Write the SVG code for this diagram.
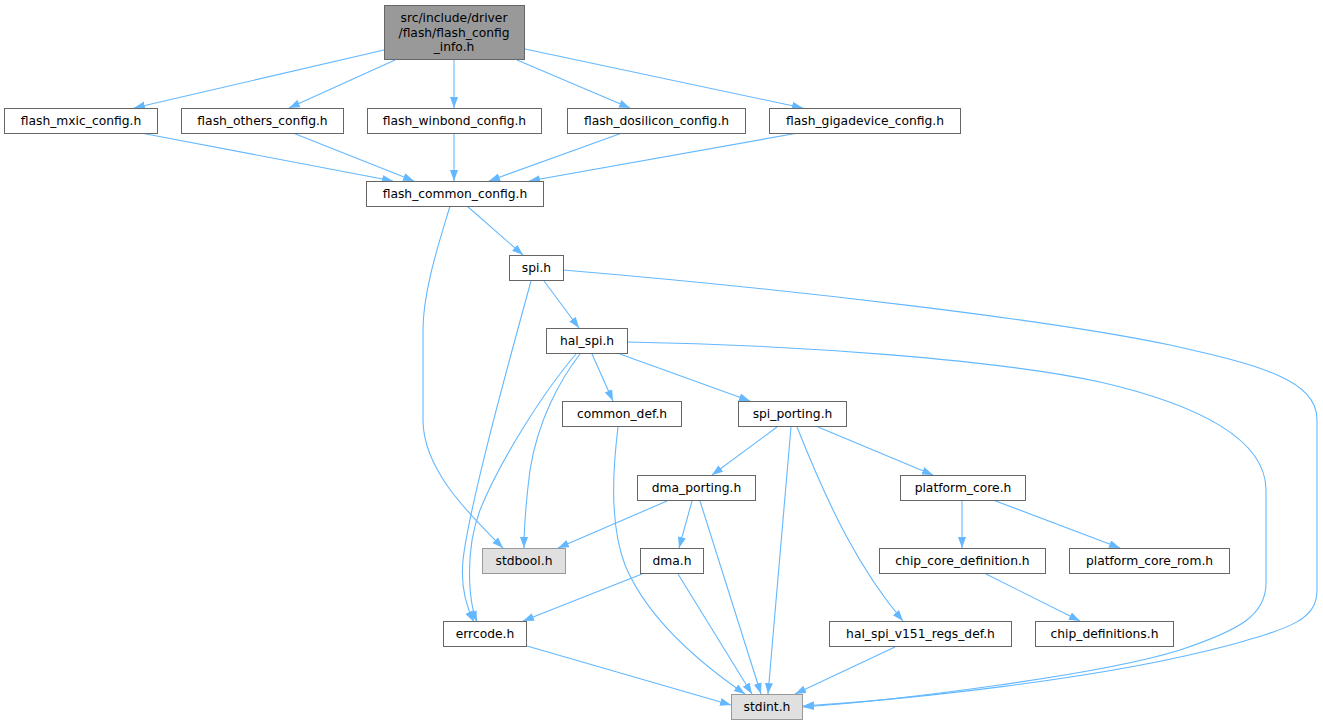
<svg xmlns="http://www.w3.org/2000/svg" width="1323" height="725" viewBox="0 0 1323 725">
<defs>
<marker id="ah" markerUnits="userSpaceOnUse" markerWidth="12" markerHeight="9" refX="11" refY="4" orient="auto"><path d="M0,0 L11,4 L0,8 z" fill="#63b8ff"/></marker>
</defs>
<style>
.n rect{fill:#fff;stroke:#666;stroke-width:1}
.g rect{fill:#e0e0e0;stroke:#999;stroke-width:1}
.t rect{fill:#999;stroke:#666;stroke-width:1}
text{font-family:"DejaVu Sans",sans-serif;font-size:12.3px;fill:#000;text-anchor:middle}
#edges path{fill:none;stroke:#63b8ff;stroke-width:1.1;marker-end:url(#ah)}
</style>
<rect width="1323" height="725" fill="#fff"/>
<g id="edges">
<path d="M384,50 L134,108"/>
<path d="M395,60 L289,108"/>
<path d="M454,60 L454,108"/>
<path d="M517,60 L630,108"/>
<path d="M525,49 L803,108"/>
<path d="M141,133 L393,181"/>
<path d="M293,133 L414,181"/>
<path d="M454,133 L454,181"/>
<path d="M622,133 L489,181"/>
<path d="M798,133 L529,181"/>
<path d="M467,206 L523,255"/>
<path d="M450,206 C440,240 423,290 423,330 L423,420 C423,470 470,515 503,548"/>
<path d="M531,281 C515,340 470,500 463,560 C460,590 468,610 474,622"/>
<path d="M544,281 L579,328"/>
<path d="M563,270 C800,290 1050,320 1170,345 C1260,365 1317,380 1317,420 L1317,590 C1317,620 1290,628 1230,645 C1100,680 900,700 803,706"/>
<path d="M627,342 C800,345 1000,360 1100,382 C1200,405 1266,440 1266,490 L1266,583 C1266,615 1240,630 1180,650 C1100,675 900,700 803,707"/>
<path d="M580,354 C560,380 538,420 530,470 C525,510 524,530 524,548"/>
<path d="M576,354 C545,390 500,460 480,510 C465,550 468,600 477,622"/>
<path d="M592,354 L613,401"/>
<path d="M620,354 L750,401"/>
<path d="M618,427 C614,460 608,520 625,565 C650,625 710,670 745,694"/>
<path d="M777,427 L712,475"/>
<path d="M791,427 L768,694"/>
<path d="M797,427 C830,510 860,570 903,621"/>
<path d="M818,427 L933,475"/>
<path d="M667,501 L558,548"/>
<path d="M692,501 L679,548"/>
<path d="M700,501 L761,694"/>
<path d="M642,574 L523,621"/>
<path d="M678,574 L752,694"/>
<path d="M527,646 L731,705"/>
<path d="M895,647 L795,694"/>
<path d="M962,500 L962,548"/>
<path d="M993,500 L1120,548"/>
<path d="M986,574 L1080,621"/>
</g>
<g id="flash_config_info" class="t"><rect x="384.5" y="5.5" width="140" height="54"/><text x="454" y="22">src/include/driver</text><text x="454" y="36.5">/flash/flash_config</text><text x="454" y="51">_info.h</text></g>
<g id="flash_mxic_config" class="n"><rect x="4.5" y="108.5" width="153" height="25"/><text x="81" y="125">flash_mxic_config.h</text></g>
<g id="flash_others_config" class="n"><rect x="181.5" y="108.5" width="162" height="25"/><text x="262.5" y="125">flash_others_config.h</text></g>
<g id="flash_winbond_config" class="n"><rect x="367.5" y="108.5" width="174" height="25"/><text x="454.5" y="125">flash_winbond_config.h</text></g>
<g id="flash_dosilicon_config" class="n"><rect x="567.5" y="108.5" width="178" height="25"/><text x="656.5" y="125">flash_dosilicon_config.h</text></g>
<g id="flash_gigadevice_config" class="n"><rect x="769.5" y="108.5" width="191" height="25"/><text x="865" y="125">flash_gigadevice_config.h</text></g>
<g id="flash_common_config" class="n"><rect x="366.5" y="181.5" width="177" height="25"/><text x="455" y="198">flash_common_config.h</text></g>
<g id="spi" class="n"><rect x="509.5" y="255.5" width="54" height="25"/><text x="536.5" y="272">spi.h</text></g>
<g id="hal_spi" class="n"><rect x="546.5" y="328.5" width="81" height="25"/><text x="587" y="345">hal_spi.h</text></g>
<g id="common_def" class="n"><rect x="562.5" y="401.5" width="119" height="25"/><text x="622" y="418">common_def.h</text></g>
<g id="spi_porting" class="n"><rect x="738.5" y="401.5" width="108" height="25"/><text x="792.5" y="418">spi_porting.h</text></g>
<g id="dma_porting" class="n"><rect x="637.5" y="475.5" width="118" height="25"/><text x="696.5" y="492">dma_porting.h</text></g>
<g id="platform_core" class="n"><rect x="900.5" y="475.5" width="125" height="25"/><text x="963" y="492">platform_core.h</text></g>
<g id="stdbool" class="g"><rect x="482.5" y="548.5" width="83" height="25"/><text x="524" y="565">stdbool.h</text></g>
<g id="dma" class="n"><rect x="640.5" y="548.5" width="63" height="25"/><text x="672" y="565">dma.h</text></g>
<g id="chip_core_definition" class="n"><rect x="879.5" y="548.5" width="166" height="25"/><text x="962.5" y="565">chip_core_definition.h</text></g>
<g id="platform_core_rom" class="n"><rect x="1069.5" y="548.5" width="160" height="25"/><text x="1149.5" y="565">platform_core_rom.h</text></g>
<g id="errcode" class="n"><rect x="443.5" y="621.5" width="83" height="25"/><text x="485" y="638">errcode.h</text></g>
<g id="hal_spi_v151_regs_def" class="n"><rect x="829.5" y="621.5" width="182" height="25"/><text x="920.5" y="638">hal_spi_v151_regs_def.h</text></g>
<g id="chip_definitions" class="n"><rect x="1035.5" y="621.5" width="138" height="25"/><text x="1104.5" y="638">chip_definitions.h</text></g>
<g id="stdint" class="g"><rect x="731.5" y="694.5" width="71" height="25"/><text x="767" y="711">stdint.h</text></g>
</svg>
